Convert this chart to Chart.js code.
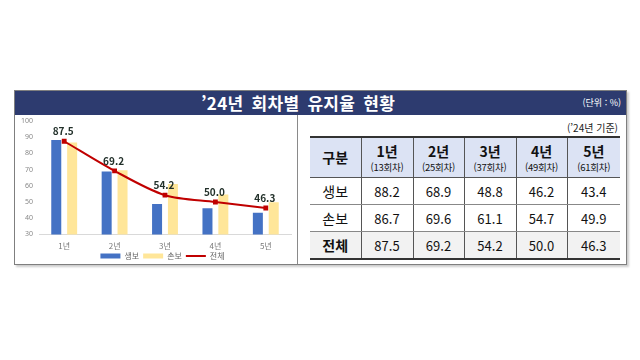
<!DOCTYPE html>
<html lang="ko">
<head>
<meta charset="utf-8">
<script src="https://cdn.jsdelivr.net/npm/chart.js@4.4.1/dist/chart.umd.min.js"></script>
<style>
  body { margin: 0; background: #fff; font-family: "Noto Sans CJK KR", "Noto Sans", sans-serif; }
  #wrap { position: relative; width: 640px; height: 360px; }
  #frame { position: absolute; left: 14px; top: 90px; width: 611px; height: 173px; border: 1px solid #7f7f7f; box-shadow: 2px 2px 2px #ccc; }
  #banner { position: absolute; left: 0; top: 0; width: 611px; height: 24px; background: #2d3b6f; color: #fff; }
  #title { position: absolute; left: 186px; top: 0; line-height: 24px; font-size: 17px; font-weight: bold; letter-spacing: 0.3px; word-spacing: 3px; }
  #unit { position: absolute; right: 5px; top: 0; line-height: 24px; font-size: 9px; }
  #left { position: absolute; left: 0; top: 24px; width: 282px; height: 149px; border-right: 1px solid #8a8a8a; overflow: hidden; }
  #basis { position: absolute; right: 8px; top: 29px; font-size: 10px; color: #222; }
  #tbl { position: absolute; left: 295px; top: 45px; border-collapse: collapse; table-layout: fixed; }
  #tbl td { text-align: center; padding: 0; color: #111; border-left: 1px solid #555; border-bottom: 1px solid #888; font-size: 13px; overflow: hidden; white-space: nowrap; }
  #tbl tr td:first-child { border-left: none; font-size: 14px; }
  #tbl tr.head td { background: #dce3f4; height: 39px; border-top: 2px solid #333; border-bottom: 1px solid #555; font-weight: bold; font-size: 14px; line-height: 19px; }
  #tbl tr.head small { display: block; font-weight: normal; font-size: 9.5px; letter-spacing: -0.2px; line-height: 13px; }
  #tbl tr.row td { height: 26px; }
  #tbl tr.total td { background: #f2f2f2; border-bottom: 2px solid #333; }
  #tbl tr.total td:first-child { font-weight: bold; }
</style>
</head>
<body>
<div id="wrap">
  <div id="frame">
    <div id="banner">
      <div id="title">’24년 회차별 유지율 현황</div>
      <div id="unit">(단위 : %)</div>
    </div>
    <div id="left"><canvas id="retentionChart" width="282" height="149"></canvas></div>
    <div id="basis">(’24년 기준)</div>
    <table id="tbl"></table>
  </div>
</div>
<script>
var categories = ['1년', '2년', '3년', '4년', '5년'];
var rounds = ['13회차', '25회차', '37회차', '49회차', '61회차'];
var lifeIns = [88.2, 68.9, 48.8, 46.2, 43.4];
var nonLifeIns = [86.7, 69.6, 61.1, 54.7, 49.9];
var total = [87.5, 69.2, 54.2, 50.0, 46.3];
var yTicks = [30, 40, 50, 60, 70, 80, 90, 100];

// table on the right, built from the same arrays
var tbl = document.getElementById('tbl');
var colW = [51, 52, 51, 52, 51, 53];
var html = '<colgroup>';
colW.forEach(function (w) { html += '<col style="width:' + w + 'px">'; });
html += '</colgroup>';
html += '<tr class="head"><td>구분</td>';
categories.forEach(function (c, i) { html += '<td>' + c + '<small>(' + rounds[i] + ')</small></td>'; });
html += '</tr>';
function addRow(name, vals, cls) {
  html += '<tr class="' + cls + '"><td>' + name + '</td>';
  vals.forEach(function (v) { html += '<td>' + v.toFixed(1) + '</td>'; });
  html += '</tr>';
}
addRow('생보', lifeIns, 'row');
addRow('손보', nonLifeIns, 'row');
addRow('전체', total, 'row total');
tbl.innerHTML = html;

// labels above the 전체 line
var lineLabels = {
  id: 'lineLabels',
  afterDatasetsDraw: function (chart) {
    var meta = chart.getDatasetMeta(2);
    var ctx = chart.ctx;
    ctx.save();
    ctx.font = 'bold 10px "Noto Sans CJK KR", sans-serif';
    ctx.fillStyle = '#22302a';
    ctx.textAlign = 'center';
    ctx.textBaseline = 'bottom';
    meta.data.forEach(function (pt, i) {
      ctx.fillText(total[i].toFixed(1), pt.x - 1, pt.y - 5);
    });
    ctx.restore();
  }
};

// legend sits tight under the x labels and a bit right of centre, like the reference
var tightLegend = {
  id: 'tightLegend',
  beforeUpdate: function (chart) {
    var lg = chart.legend;
    if (lg && !lg._tight) {
      var fit = lg.fit;
      lg.fit = function () { fit.call(this); this.height = 6; };
      lg._tight = true;
    }
  },
  afterLayout: function (chart) {
    var lg = chart.legend;
    var p = lg.options.labels.padding;
    lg.top = 141 - p - 4;
    lg.bottom = chart.height;
    lg.height = lg.bottom - lg.top;
    lg.left += 8; lg.right += 8;
  }
};

var ctx = document.getElementById('retentionChart').getContext('2d');
var retentionChart = new Chart(ctx, {
  type: 'bar',
  data: {
    labels: categories,
    datasets: [{
      label: '생보',
      data: lifeIns,
      backgroundColor: '#4472c4',
      order: 1
    }, {
      label: '손보',
      data: nonLifeIns,
      backgroundColor: '#ffe699',
      order: 1
    }, {
      type: 'line',
      label: '전체',
      data: total,
      borderColor: '#c00000',
      backgroundColor: '#c00000',
      borderWidth: 2,
      pointStyle: 'rect',
      pointRadius: 2,
      tension: 0.3,
      order: 0
    }]
  },
  options: {
    responsive: false,
    animation: false,
    devicePixelRatio: 1,
    datasets: { bar: { categoryPercentage: 0.63, barPercentage: 0.63 } },
    layout: { padding: { top: 0, left: 0, right: 3, bottom: 0 } },
    plugins: {
      tooltip: { enabled: false },
      legend: {
        position: 'bottom',
        labels: {
          usePointStyle: true,
          pointStyleWidth: 20,
          boxHeight: 5,
          padding: 4,
          color: '#666',
          font: { size: 8, family: '"Noto Sans CJK KR", sans-serif' },
          sort: function (a, b) { return a.datasetIndex - b.datasetIndex; },
          generateLabels: function (chart) {
            var items = Chart.defaults.plugins.legend.labels.generateLabels(chart);
            items.forEach(function (it) {
              if (it.datasetIndex === 2) {
                it.pointStyle = 'line';
                it.lineWidth = 2;
                it.strokeStyle = '#c00000';
              } else {
                it.pointStyle = 'rect';
                it.lineWidth = 0;
              }
            });
            return items;
          }
        }
      }
    },
    scales: {
      x: {
        grid: { display: false, drawTicks: false },
        border: { color: '#d9d9d9' },
        ticks: { color: '#777', padding: 7, font: { size: 8, family: '"Noto Sans CJK KR", sans-serif' } }
      },
      y: {
        min: 30,
        max: 100,
        grid: { display: false, drawTicks: false },
        border: { display: false },
        afterBuildTicks: function (axis) { axis.ticks = yTicks.map(function (v) { return { value: v }; }); },
        afterFit: function (axis) { axis.width = 24; axis.paddingTop = 6; axis.paddingBottom = 4; },
        ticks: { color: '#888', padding: 6, font: { size: 7, family: '"Noto Sans", sans-serif' } }
      }
    }
  },
  plugins: [lineLabels, tightLegend]
});
</script>
</body>
</html>
